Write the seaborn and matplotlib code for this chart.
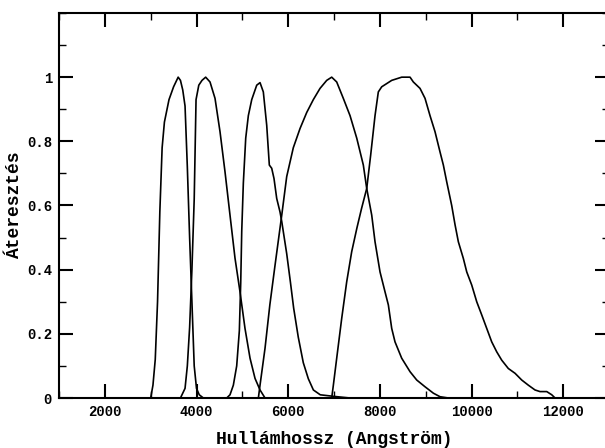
import numpy as np
import pandas as pd
import matplotlib
matplotlib.use("Agg")
import matplotlib.pyplot as plt
import seaborn as sns
from matplotlib.ticker import MultipleLocator

# ---- data ----
u_wave = [3000, 3050, 3100, 3150, 3200, 3250, 3300, 3400, 3500, 3600, 3650, 3700, 3750, 3800, 3850, 3900, 3950, 4000, 4060, 4150]
u_trans = [0.0, 0.04, 0.12, 0.30, 0.58, 0.78, 0.86, 0.93, 0.97, 1.0, 0.99, 0.96, 0.91, 0.72, 0.50, 0.30, 0.10, 0.03, 0.01, 0.0]

b_wave = [3650, 3750, 3800, 3850, 3900, 3950, 3990, 4050, 4120, 4200, 4295, 4404, 4513, 4622, 4731, 4840, 4949, 5058, 5168, 5277, 5386, 5495]
b_trans = [0.0, 0.03, 0.10, 0.22, 0.40, 0.62, 0.93, 0.975, 0.99, 1.0, 0.985, 0.934, 0.83, 0.705, 0.57, 0.436, 0.331, 0.217, 0.124, 0.061, 0.025, 0.0]

v_wave = [4659, 4731, 4804, 4877, 4935, 4965, 4987, 5022, 5074, 5131, 5205, 5314, 5386, 5458, 5532, 5589, 5641, 5691, 5750, 5822, 5860, 5968, 6050, 6120, 6220, 6330, 6440, 6550, 6700, 7000, 7350]
v_trans = [0.0, 0.01, 0.04, 0.10, 0.21, 0.36, 0.52, 0.67, 0.81, 0.88, 0.93, 0.975, 0.983, 0.954, 0.85, 0.726, 0.716, 0.684, 0.622, 0.58, 0.55, 0.45, 0.36, 0.28, 0.19, 0.11, 0.06, 0.025, 0.01, 0.005, 0.0]

r_wave = [5350, 5386, 5495, 5600, 5710, 5860, 5968, 6112, 6259, 6405, 6549, 6695, 6841, 6950, 7059, 7203, 7350, 7496, 7640, 7714, 7823, 7895, 8004, 8113, 8186, 8259, 8331, 8477, 8659, 8805, 8986, 9168, 9313, 9495]
r_trans = [0.0, 0.04, 0.155, 0.29, 0.41, 0.57, 0.69, 0.78, 0.84, 0.89, 0.93, 0.965, 0.99, 1.0, 0.985, 0.934, 0.88, 0.81, 0.726, 0.653, 0.57, 0.487, 0.393, 0.331, 0.29, 0.217, 0.175, 0.124, 0.082, 0.056, 0.035, 0.015, 0.004, 0.0]

i_wave = [6950, 6986, 7059, 7168, 7277, 7386, 7500, 7600, 7714, 7800, 7895, 7967, 8041, 8150, 8259, 8477, 8659, 8731, 8877, 8986, 9095, 9204, 9313, 9386, 9459, 9568, 9641, 9713, 9822, 9896, 10005, 10114, 10223, 10332, 10441, 10550, 10659, 10803, 10950, 11096, 11240, 11386, 11495, 11642, 11751, 11823]
i_trans = [0.0, 0.04, 0.124, 0.248, 0.362, 0.456, 0.53, 0.59, 0.653, 0.757, 0.88, 0.954, 0.97, 0.98, 0.99, 1.0, 1.0, 0.985, 0.965, 0.934, 0.88, 0.83, 0.767, 0.726, 0.674, 0.60, 0.54, 0.487, 0.435, 0.393, 0.352, 0.30, 0.259, 0.217, 0.175, 0.144, 0.118, 0.092, 0.077, 0.056, 0.04, 0.025, 0.02, 0.02, 0.01, 0.0]

filters = ["U", "B", "V", "R", "I"]
x_ticks = [2000, 4000, 6000, 8000, 10000, 12000]
y_ticks = [0, 0.2, 0.4, 0.6, 0.8, 1]
y_tick_labels = ["0", "0.2", "0.4", "0.6", "0.8", "1"]

frames = []
for name, w, t in zip(filters, [u_wave, b_wave, v_wave, r_wave, i_wave],
                      [u_trans, b_trans, v_trans, r_trans, i_trans]):
    frames.append(pd.DataFrame({"wave": w, "trans": t, "filter": name}))
df = pd.concat(frames, ignore_index=True)

sns.set_theme(style="white")
plt.rcParams["font.family"] = ["Liberation Mono", "DejaVu Sans Mono"]
plt.rcParams["font.weight"] = "bold"

fig = plt.figure(figsize=(6.05, 4.48), dpi=100)
ax = fig.add_axes([59 / 605, 1 - 398 / 448, 550 / 605, 385 / 448])

sns.lineplot(data=df, x="wave", y="trans", hue="filter",
             palette={f: "black" for f in filters}, estimator=None,
             sort=False, linewidth=1.2, legend=False, ax=ax)

ax.set_xlim(1000, 13000)
ax.set_ylim(0, 1.2)
ax.set_xticks(x_ticks)
ax.set_xticklabels([str(v) for v in x_ticks])
ax.set_yticks(y_ticks)
ax.set_yticklabels(y_tick_labels)
ax.xaxis.set_minor_locator(MultipleLocator(1000))
ax.yaxis.set_minor_locator(MultipleLocator(0.1))
ax.tick_params(which="both", direction="in", top=True, right=True,
               bottom=True, left=True, color="black", labelsize=10,
               labelcolor="black")
ax.tick_params(which="major", length=10, width=1.5, pad=5)
ax.tick_params(which="minor", length=5, width=1.0)
for lab in ax.get_xticklabels() + ax.get_yticklabels():
    lab.set_fontweight("bold")
for sp in ax.spines.values():
    sp.set_visible(True)
    sp.set_color("black")
    sp.set_linewidth(1.5)

ax.set_xlabel("Hullámhossz (Angström)", fontsize=13, fontweight="bold", color="black", labelpad=9)
ax.set_ylabel("Áteresztés", fontsize=13, fontweight="bold", color="black", labelpad=3)
ax.grid(False)

fig.savefig("out.png", dpi=100, facecolor="white")
